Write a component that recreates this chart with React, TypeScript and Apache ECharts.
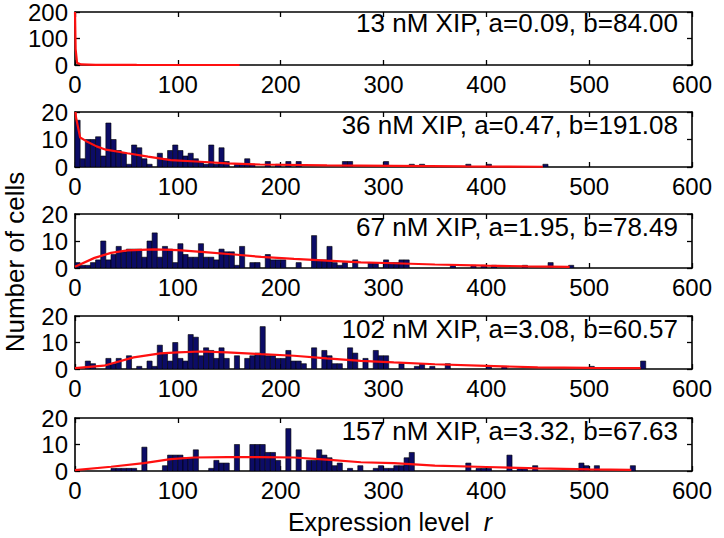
import React, { useEffect, useRef } from "react";
import * as echarts from "echarts";

const BIN = 5;
const X_TICKS = { min: 0, max: 600, interval: 100 };
const panelLabels = [
  "13 nM XIP, a=0.09, b=84.00",
  "36 nM XIP, a=0.47, b=191.08",
  "67 nM XIP, a=1.95, b=78.49",
  "102 nM XIP, a=3.08, b=60.57",
  "157 nM XIP, a=3.32, b=67.63",
];
const yMaxes = [200, 20, 20, 20, 20];
const yIntervals = [100, 10, 10, 10, 10];

// histogram bins: [left edge, count]
const hist13: number[][] = [];
const hist36 = [
  [0, 17], [5, 3], [10, 10], [15, 10], [20, 11], [25, 4], [30, 16], [35, 10], [40, 6], [45, 5],
  [50, 1], [55, 8], [60, 7], [65, 3], [70, 1], [80, 5], [85, 3], [90, 6], [95, 8], [100, 6],
  [105, 4], [110, 5], [115, 3], [120, 2], [125, 1], [130, 8], [135, 1], [140, 7], [145, 2],
  [155, 1], [160, 1], [165, 3], [170, 1], [185, 2], [195, 1], [205, 2], [215, 2], [260, 2],
  [265, 2], [300, 2], [325, 1], [335, 1], [380, 1], [400, 1], [455, 1],
];
const hist67 = [
  [0, 2], [5, 1], [10, 1], [15, 2], [20, 3], [25, 10], [30, 3], [35, 5], [40, 8], [45, 6],
  [50, 7], [55, 7], [60, 7], [65, 4], [70, 10], [75, 13], [80, 4], [85, 8], [90, 7], [95, 2],
  [100, 9], [105, 5], [110, 4], [115, 4], [120, 9], [125, 4], [130, 4], [135, 3], [140, 7],
  [145, 6], [150, 6], [155, 1], [160, 8], [170, 2], [175, 2], [185, 5], [190, 3], [195, 3],
  [200, 3], [215, 2], [230, 12], [235, 3], [240, 3], [245, 8], [250, 2], [255, 1], [260, 2],
  [270, 3], [285, 2], [290, 2], [300, 3], [305, 2], [310, 2], [315, 3], [320, 3], [365, 1],
  [385, 1], [395, 1], [405, 1], [435, 1], [460, 2], [480, 1],
];
const hist102 = [
  [10, 3], [15, 2], [30, 4], [35, 2], [40, 4], [50, 5], [60, 1], [70, 3], [75, 1], [80, 9],
  [85, 6], [90, 3], [95, 10], [100, 4], [105, 3], [110, 13], [115, 12], [120, 5], [125, 8],
  [130, 7], [135, 4], [140, 8], [145, 4], [155, 5], [165, 4], [170, 5], [175, 6], [180, 16],
  [185, 5], [190, 5], [195, 4], [200, 4], [205, 7], [210, 3], [215, 3], [220, 2], [230, 8],
  [240, 7], [245, 5], [250, 2], [255, 2], [265, 8], [270, 6], [280, 4], [290, 7], [295, 5],
  [300, 5], [315, 2], [330, 1], [335, 2], [345, 1], [360, 2], [400, 1], [415, 1], [500, 1],
  [550, 3],
];
const hist157 = [
  [35, 1], [40, 1], [45, 1], [50, 1], [55, 1], [65, 9], [85, 2], [90, 6], [95, 6], [100, 6],
  [105, 5], [110, 5], [115, 8], [130, 1], [135, 4], [140, 3], [145, 3], [155, 10], [170, 10],
  [175, 10], [180, 10], [185, 7], [190, 7], [195, 4], [205, 16], [215, 8], [225, 4], [230, 4],
  [235, 8], [240, 6], [245, 5], [250, 2], [255, 3], [265, 1], [275, 2], [290, 1], [295, 2],
  [300, 1], [305, 1], [310, 2], [315, 2], [320, 5], [325, 7], [380, 3], [390, 1], [395, 1],
  [400, 1], [420, 6], [430, 1], [435, 1], [445, 2], [490, 3], [495, 2], [505, 2], [540, 2],
];

// fitted curves: [r, count]
const curve13 = [[0, 200], [0.6, 60], [2, 8], [6, 2], [20, 0.8], [60, 0.3], [160, 0]];
const curve36 = [
  [0.5, 20], [1, 18], [5, 10.7], [11, 9.4], [21, 7.5], [30, 6.3], [51, 5], [71, 3.8], [93, 2.5],
  [122, 1.9], [148, 1.3], [180, 0.9], [245, 0.6], [310, 0.4], [380, 0.2], [455, 0.1],
];
const curve67 = [
  [0, 0.5], [19, 3.75], [35, 5.6], [51, 6.5], [77, 6.9], [100, 6.6], [126, 5.9], [155, 5],
  [181, 4.1], [213, 3.4], [245, 2.75], [278, 2.1], [310, 1.75], [350, 1.3], [400, 0.9],
  [440, 0.6], [481, 0.4],
];
const curve102 = [
  [0, 0.3], [28, 1.25], [57, 4.4], [83, 5.9], [100, 6.25], [122, 6.6], [148, 6.25], [181, 5.6],
  [213, 5], [245, 4], [278, 3.1], [310, 2.5], [350, 1.8], [400, 1.2], [450, 0.6], [500, 0.4],
  [550, 0.3],
];
const curve157 = [
  [0, 0.3], [35, 1.6], [67, 3], [93, 4.5], [116, 5.1], [148, 5.2], [180, 5.2], [213, 5.1],
  [245, 4.3], [278, 3.3], [310, 3], [350, 2], [400, 1.5], [450, 1], [500, 0.6], [541, 0.4],
];

const hists = [hist13, hist36, hist67, hist102, hist157];
const curves = [curve13, curve36, curve67, curve102, curve157];

const gridTops = [10, 112, 214, 316, 418];
const gridHeights = [55, 55, 54, 53, 53];
const FONT = "'Liberation Sans', Arial, sans-serif";
const TICK_FONT = 24;
const TEXT_FONT = 26;

export default function App() {
  const ref = useRef<HTMLDivElement>(null);
  useEffect(() => {
    if (!ref.current) return;
    const chart = echarts.init(ref.current, undefined, { renderer: "svg" });
    const grid: any[] = [];
    const xAxis: any[] = [];
    const yAxis: any[] = [];
    const series: any[] = [];
    const graphic: any[] = [];
    const lineStyle = { color: "#000", width: 1.6 };
    for (let i = 0; i < 5; i++) {
      grid.push({ left: 75, right: 32, top: gridTops[i], height: gridHeights[i], show: false });
      const baseX = {
        gridIndex: i, type: "value", ...X_TICKS,
        axisLine: { show: true, onZero: false, lineStyle },
        axisTick: { show: true, inside: true, length: 5, lineStyle: { color: "#000", width: 1.3 } },
        splitLine: { show: false },
      };
      xAxis.push({
        ...baseX, position: "bottom",
        axisLabel: { show: true, fontSize: TICK_FONT, color: "#000", fontFamily: FONT, margin: 7 },
      });
      xAxis.push({ ...baseX, position: "top", axisLabel: { show: false } });
      const baseY = {
        gridIndex: i, type: "value", min: 0, max: yMaxes[i], interval: yIntervals[i],
        axisLine: { show: true, onZero: false, lineStyle },
        axisTick: { show: true, inside: true, length: 5, lineStyle: { color: "#000", width: 1.3 } },
        splitLine: { show: false },
      };
      yAxis.push({
        ...baseY, position: "left",
        axisLabel: { show: true, fontSize: TICK_FONT, color: "#000", fontFamily: FONT, margin: 7 },
      });
      yAxis.push({ ...baseY, position: "right", axisLabel: { show: false } });

      if (hists[i].length) {
        series.push({
          type: "custom",
          xAxisIndex: 2 * i,
          yAxisIndex: 2 * i,
          data: hists[i],
          clip: true,
          encode: { x: 0, y: 1 },
          renderItem: (params: any, api: any) => {
            const x0 = api.value(0);
            const y = api.value(1);
            const p1 = api.coord([x0, y]);
            const p2 = api.coord([x0 + BIN, 0]);
            return {
              type: "rect",
              shape: { x: p1[0], y: p1[1], width: p2[0] - p1[0], height: p2[1] - p1[1] },
              style: { fill: "#0c0c66", stroke: "#000", lineWidth: 0.6 },
            };
          },
        });
      }
      series.push({
        type: "line",
        xAxisIndex: 2 * i,
        yAxisIndex: 2 * i,
        data: curves[i],
        showSymbol: false,
        symbol: "none",
        clip: true,
        lineStyle: { color: "#ff1010", width: 2.2 },
        z: 5,
      });
      graphic.push({
        type: "text",
        x: 678,
        y: gridTops[i] + 13,
        z: 10,
        style: {
          text: panelLabels[i],
          align: "right",
          verticalAlign: "middle",
          fontSize: TEXT_FONT,
          fontFamily: FONT,
          fill: "#000",
        },
      });
    }
    graphic.push({
      type: "text",
      x: 15,
      y: 262,
      rotation: Math.PI / 2,
      style: {
        text: "Number of cells",
        align: "center",
        verticalAlign: "middle",
        fontSize: TEXT_FONT,
        fontFamily: FONT,
        fill: "#000",
      },
    });
    graphic.push({
      type: "text",
      x: 390,
      y: 522,
      style: {
        text: "{n|Expression level  }{i|r}",
        align: "center",
        verticalAlign: "middle",
        rich: {
          n: { fontSize: 25, fontFamily: FONT, fill: "#000", color: "#000" },
          i: { fontSize: 25, fontFamily: FONT, fontStyle: "italic", fill: "#000", color: "#000" },
        },
      },
    });
    chart.setOption({
      animation: false,
      backgroundColor: "#fff",
      grid,
      xAxis,
      yAxis,
      series,
      graphic,
    });
    return () => chart.dispose();
  }, []);
  return (
    <div
      ref={ref}
      style={{ position: "fixed", left: 0, top: 0, width: 724, height: 538 }}
    />
  );
}
